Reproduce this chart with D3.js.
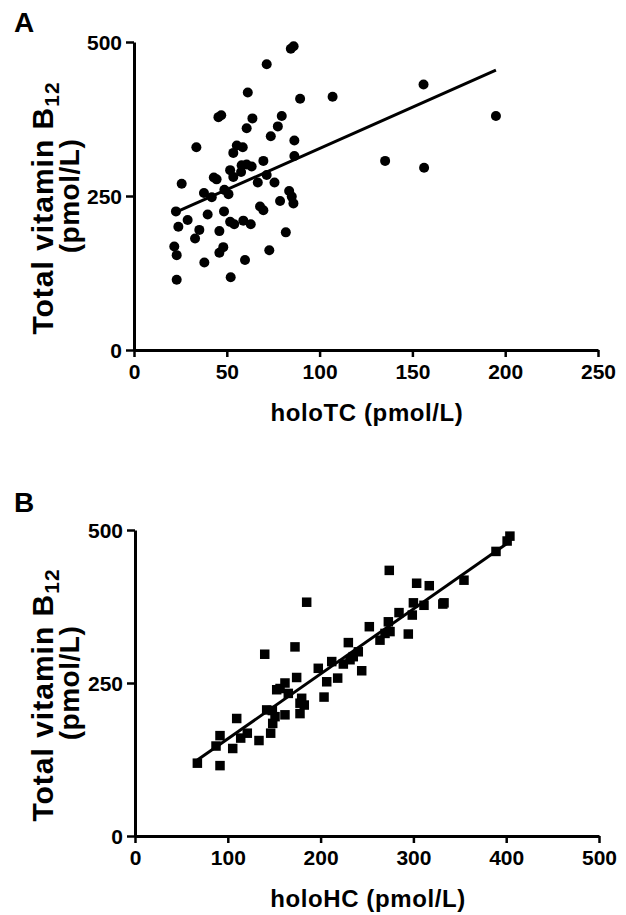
<!DOCTYPE html>
<html>
<head>
<meta charset="utf-8">
<script src="https://cdn.jsdelivr.net/npm/d3@7"></script>
<style>
  html, body { margin: 0; padding: 0; background: #fff; }
  svg { display: block; }
  text { font-family: "Liberation Sans", Arial, Helvetica, sans-serif; font-weight: bold; fill: #000; }
</style>
</head>
<body>
<svg id="chart" width="626" height="915"></svg>
<script>
// ---------- Data ----------
// Panel A: holoTC (pmol/L) vs total vitamin B12 (pmol/L)
const holoTC = [84.5, 86, 71.5, 61.3, 89.5, 107, 45.5, 47, 63.8, 79.6,
  60.7, 77.5, 73.7, 86.4, 33.6, 55.4, 58.6, 53.5, 86.4, 69.7,
  58, 60.7, 63.4, 51.8, 57.7, 43, 44.5, 53.5, 71.5, 25.7,
  66.7, 75.7, 37.7, 48.7, 50.9, 41.9, 83.6, 85, 85.9, 78.7,
  22.6, 39.7, 48.5, 67.9, 69.7, 28.9, 23.9, 51.8, 54, 58.9,
  62.9, 35.2, 46, 32.9, 81.8, 21.7, 23, 48.1, 46, 72.9,
  37.9, 59.8, 23, 52.1, 156, 195, 135.3, 156.3];
const b12A = [489, 493, 464, 418, 408, 411, 378, 381, 376, 380,
  360, 363, 347, 340, 329, 332, 329, 320, 315, 307,
  300, 301, 298, 292, 289, 280, 277, 281, 284, 270,
  272, 272, 255, 260, 253, 248, 258, 249, 238, 242,
  225, 220, 225, 233, 227, 211, 200, 208, 204, 210,
  204, 195, 193, 181, 191, 168, 154, 167, 158, 162,
  142, 146, 114, 118, 431, 380, 307, 296];
const fitA = [1.338, 193.4];          // slope, intercept
const ticksXA = [0, 50, 100, 150, 200, 250];

// Panel B: holoHC (pmol/L) vs total vitamin B12 (pmol/L)
const holoHC = [67.2, 91.6, 87.3, 91.6, 105.3, 109.6, 113.9, 121, 133.6, 139.8,
  146.2, 141.9, 148.4, 150.9, 152.7, 161.6, 161.6, 165.2, 172.4, 174.2,
  177.8, 182.4, 179.6, 185, 156.3, 148, 177.8, 203.7, 197.5, 212,
  206.6, 218.4, 229.9, 224.5, 235.2, 240.6, 244.3, 231.7, 252.5, 264,
  269.4, 274.8, 273, 274, 284.5, 294.5, 300, 298.8, 303.5, 311.4,
  317.1, 333, 331.7, 354.5, 389, 401, 404];
const b12B = [119, 115, 147, 164, 143, 192, 160, 168, 156, 297,
  168, 206, 184, 195, 239, 250, 198, 233, 309, 259,
  200, 214, 225, 382, 241, 205, 217, 227, 274, 285,
  252, 258, 316, 281, 293, 301, 270, 288, 342, 320,
  331, 334, 350, 434, 365, 330, 381, 361, 413, 377,
  409, 381, 379, 418, 465, 482, 490];
const fitB = [1.06, 52.8];
const ticksXB = [0, 100, 200, 300, 400, 500];

const ticksY = [0, 250, 500];

// ---------- Drawing ----------
const svg = d3.select("#chart");

function panel(cfg) {
  const x = d3.scaleLinear().domain(cfg.xDomain).range(cfg.xRange);
  const y = d3.scaleLinear().domain([0, 500]).range(cfg.yRange);
  const g = svg.append("g");

  // x axis
  const gx = g.append("g")
    .attr("transform", `translate(0,${cfg.yRange[0]})`)
    .call(d3.axisBottom(x).tickValues(cfg.xTicks).tickSize(7).tickSizeOuter(0).tickPadding(6).tickFormat(d3.format("d")));
  // y axis
  const gy = g.append("g")
    .attr("transform", `translate(${cfg.xRange[0]},0)`)
    .call(d3.axisLeft(y).tickValues(ticksY).tickSize(8).tickSizeOuter(0).tickPadding(4).tickFormat(d3.format("d")));

  [gx, gy].forEach(a => {
    a.attr("font-size", null).attr("font-family", null);
    a.select(".domain").attr("stroke", "#000").attr("stroke-width", 3);
    a.selectAll(".tick line").attr("stroke", "#000").attr("stroke-width", 2.5);
    a.selectAll(".tick text").style("font-size", "21px").style("font-weight", "bold").attr("fill", "#000");
  });
  gx.selectAll(".tick text").attr("dy", "0.76em");
  gy.selectAll(".tick text").attr("dy", "0.36em");

  // regression line
  const xs = cfg.xs, ys = cfg.ys;
  const x0 = d3.min(xs), x1 = d3.max(xs);
  g.append("line")
    .attr("x1", x(x0)).attr("y1", y(cfg.fit[0] * x0 + cfg.fit[1]))
    .attr("x2", x(x1)).attr("y2", y(cfg.fit[0] * x1 + cfg.fit[1]))
    .attr("stroke", "#000").attr("stroke-width", 3);

  // points
  const pts = xs.map((v, i) => ({ x: v, y: ys[i] }));
  if (cfg.shape === "circle") {
    g.selectAll("circle.pt").data(pts).join("circle")
      .attr("class", "pt")
      .attr("cx", d => x(d.x)).attr("cy", d => y(d.y)).attr("r", 5)
      .attr("fill", "#000");
  } else {
    const s = 9.5;
    g.selectAll("rect.pt").data(pts).join("rect")
      .attr("class", "pt")
      .attr("x", d => x(d.x) - s / 2).attr("y", d => y(d.y) - s / 2)
      .attr("width", s).attr("height", s)
      .attr("fill", "#000");
  }

  // x title
  g.append("text")
    .attr("x", (cfg.xRange[0] + cfg.xRange[1]) / 2 + 1)
    .attr("y", cfg.yRange[0] + 71)
    .attr("text-anchor", "middle")
    .style("font-size", "24px")
    .style("letter-spacing", "0.6px")
    .text(cfg.xTitle);

  // y title
  const yMid = (cfg.yRange[0] + cfg.yRange[1]) / 2;
  const t1 = g.append("text")
    .attr("transform", `translate(53,${yMid + 12}) rotate(-90)`)
    .attr("text-anchor", "middle")
    .style("font-size", "30px")
    .style("letter-spacing", "1px");
  t1.append("tspan").text("Total vitamin B");
  t1.append("tspan").attr("dy", 6).style("font-size", "21px").text("12");
  g.append("text")
    .attr("transform", `translate(79,${yMid}) rotate(-90)`)
    .attr("text-anchor", "middle")
    .style("font-size", "28px")
    .style("letter-spacing", "0.5px")
    .text("(pmol/L)");

  // panel letter
  g.append("text")
    .attr("x", cfg.letterPos[0]).attr("y", cfg.letterPos[1])
    .style("font-size", "28px")
    .text(cfg.letter);
}

panel({
  xDomain: [0, 250], xRange: [134, 598], yRange: [350, 42],
  xTicks: ticksXA, xs: holoTC, ys: b12A, fit: fitA, shape: "circle",
  xTitle: "holoTC (pmol/L)", letter: "A", letterPos: [14, 32]
});
panel({
  xDomain: [0, 500], xRange: [135, 599], yRange: [836, 530],
  xTicks: ticksXB, xs: holoHC, ys: b12B, fit: fitB, shape: "square",
  xTitle: "holoHC (pmol/L)", letter: "B", letterPos: [14, 512]
});
</script>
</body>
</html>
